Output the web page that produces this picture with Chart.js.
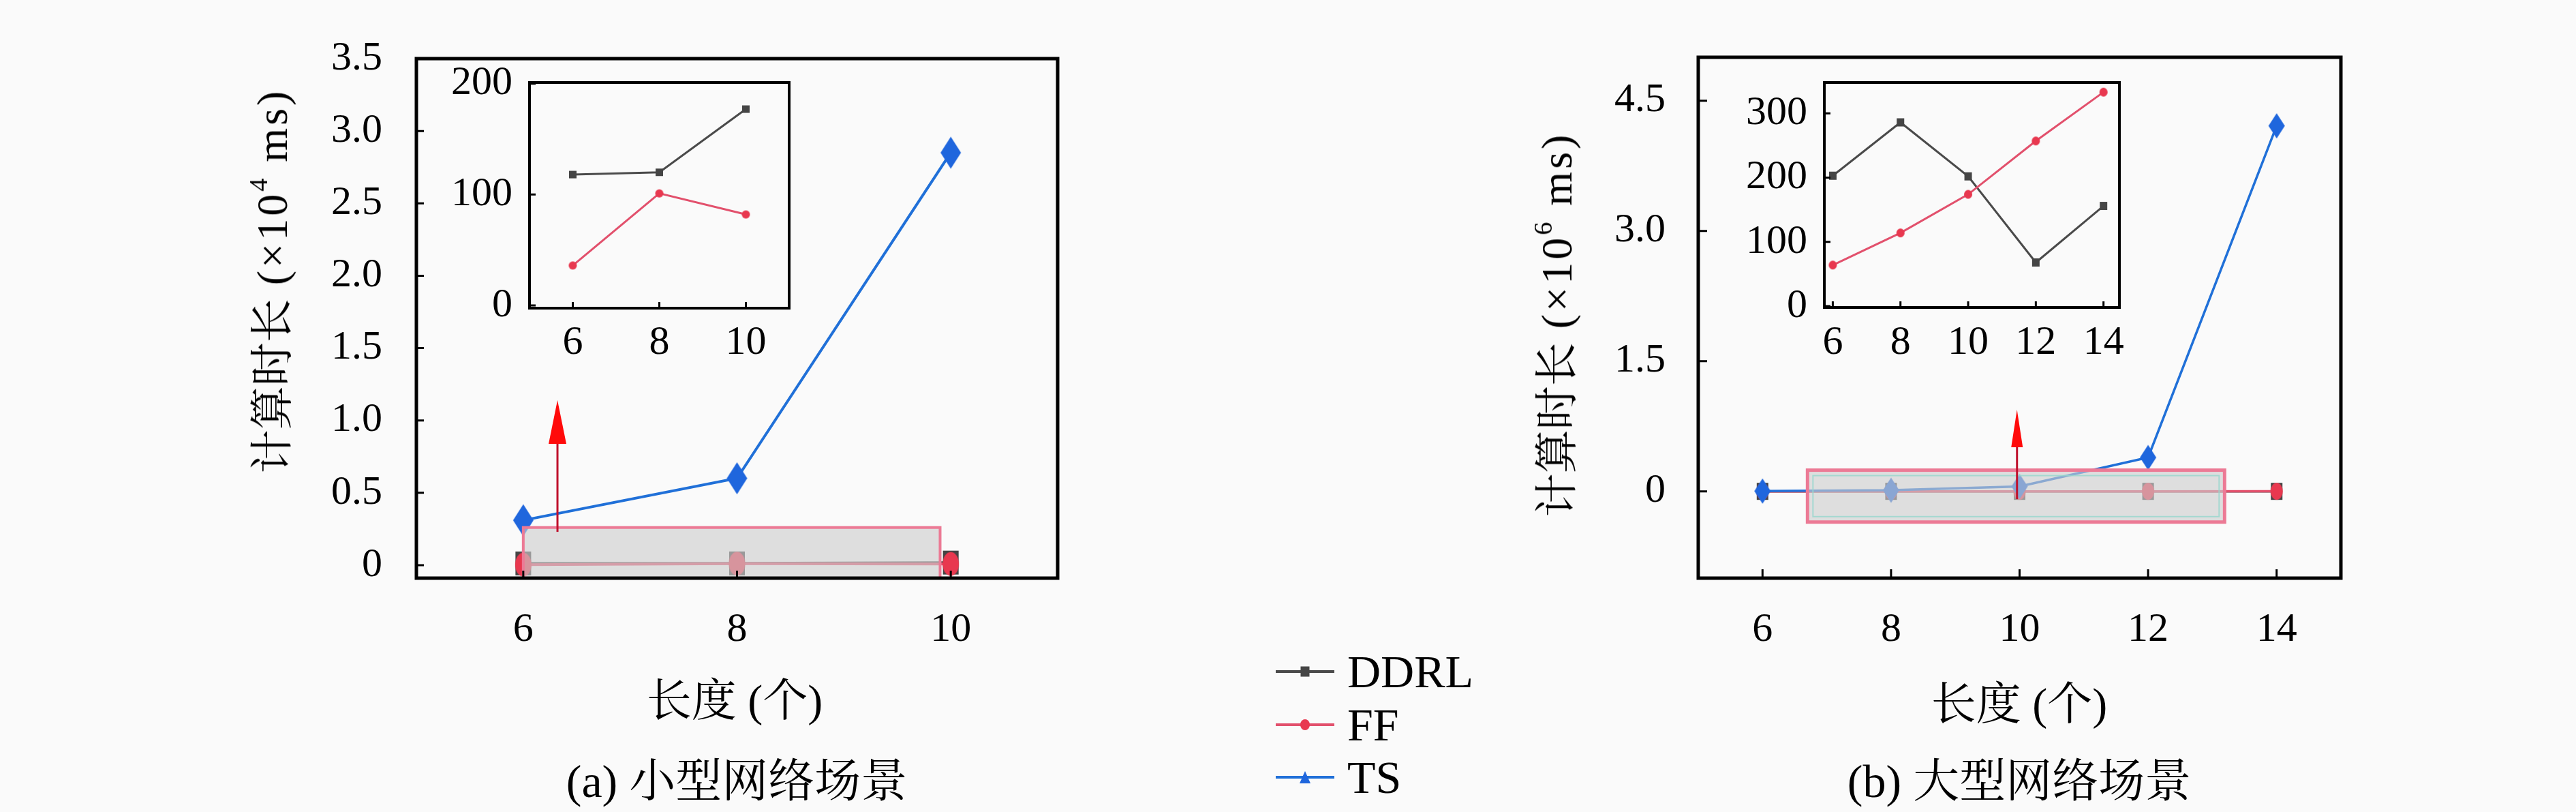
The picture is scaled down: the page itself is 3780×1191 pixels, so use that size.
<!DOCTYPE html>
<html><head><meta charset="utf-8">
<script src="https://cdn.jsdelivr.net/npm/chart.js@4.4.0/dist/chart.umd.min.js"></script>
<style>
html,body{margin:0;padding:0;background:#fafafa;}
body{width:3780px;height:1191px;position:relative;overflow:hidden;font-family:"Liberation Serif","Noto Serif CJK SC","Noto Sans CJK SC",serif;color:#000;}
canvas{position:absolute;}
.txt{position:absolute;white-space:nowrap;line-height:1;transform-origin:center center;}
.txt sup{font-size:0.6em;vertical-align:0.75em;line-height:0;}
.lat{letter-spacing:4px;}
</style></head><body>
<canvas id="mainA" width="1700" height="1191" style="left:0;top:0;width:1700px;height:1191px"></canvas>
<canvas id="mainB" width="1780" height="1191" style="left:2000px;top:0;width:1780px;height:1191px"></canvas>
<canvas id="insetA" width="600" height="500" style="left:600px;top:60px;width:600px;height:500px"></canvas>
<canvas id="insetB" width="680" height="500" style="left:2480px;top:60px;width:680px;height:500px"></canvas>
<canvas id="legend" width="110" height="240" style="left:1860px;top:925px;width:110px;height:240px"></canvas>

<div class="txt" style="left:400px;top:412px;font-size:64px;transform:translate(-50%,-50%) rotate(-90deg)">计算时长<span class="lat"> (×10<sup>4</sup> ms)</span></div>
<div class="txt" style="left:2285px;top:476px;font-size:64px;transform:translate(-50%,-50%) rotate(-90deg)">计算时长<span class="lat"> (×10<sup>6</sup> ms)</span></div>
<div class="txt" style="left:1078px;top:1028px;font-size:66px;transform:translate(-50%,-50%)">长度 (个)</div>
<div class="txt" style="left:2963px;top:1033px;font-size:66px;transform:translate(-50%,-50%)">长度 (个)</div>
<div class="txt" style="left:1081px;top:1146px;font-size:68px;transform:translate(-50%,-50%)">(a) 小型网络场景</div>
<div class="txt" style="left:2963px;top:1146px;font-size:68px;transform:translate(-50%,-50%)">(b) 大型网络场景</div>
<div class="txt" style="left:1977px;top:985px;font-size:68px;transform:translate(0,-50%)">DDRL</div>
<div class="txt" style="left:1977px;top:1063px;font-size:68px;transform:translate(0,-50%)">FF</div>
<div class="txt" style="left:1977px;top:1140px;font-size:68px;transform:translate(0,-50%)">TS</div>

<script>
// ---------------- data ----------------
const seriesNames = ['DDRL', 'FF', 'TS'];
const lengthsSmall = [6, 8, 10];
const lengthsLarge = [6, 8, 10, 12, 14];
// small network scenario (ms)
const ddrlSmallMs = [118, 120, 177];
const ffSmallMs = [36, 101, 82];
// TS small network (x10^4 ms)
const tsSmall = [0.31, 0.60, 2.85];
// large network scenario (ms)
const ddrlLargeMs = [203, 286, 202, 68, 156];
const ffLargeMs = [64, 114, 174, 257, 333];
// TS large network (x10^6 ms)
const tsLarge = [0.003, 0.013, 0.056, 0.39, 4.21];

const xTicksSmall = [6, 8, 10];
const xTicksLarge = [6, 8, 10, 12, 14];
const yTicksMainA = [0, 0.5, 1.0, 1.5, 2.0, 2.5, 3.0, 3.5];
const yLabelsMainA = ['0', '0.5', '1.0', '1.5', '2.0', '2.5', '3.0', '3.5'];
const yTicksMainB = [0, 1.5, 3.0, 4.5];
const yLabelsMainB = ['0', '1.5', '3.0', '4.5'];
const yTicksInsetA = [0, 100, 200];
const yTicksInsetB = [0, 100, 200, 300];

// ---------------- styles ----------------
const BG = '#fafafa';
const COL = { DDRL: '#454545', FF: '#e8384f', TS: '#1f66dd' };
const LINECOL = { DDRL: '#4a4a4a', FF: '#e2506c', TS: '#2070d8' };
const FONT = "'Liberation Serif', serif";

function marker(shape, w, h, fill) {
  const c = document.createElement('canvas');
  c.width = Math.ceil(w) + 2; c.height = Math.ceil(h) + 2;
  const g = c.getContext('2d');
  const cx = c.width / 2, cy = c.height / 2;
  g.fillStyle = fill;
  g.beginPath();
  if (shape === 'diamond') { g.moveTo(cx, cy - h/2); g.lineTo(cx + w/2, cy); g.lineTo(cx, cy + h/2); g.lineTo(cx - w/2, cy); g.closePath(); }
  else if (shape === 'ellipse') { g.ellipse(cx, cy, w/2, h/2, 0, 0, Math.PI * 2); }
  else if (shape === 'rect') { g.rect(cx - w/2, cy - h/2, w, h); }
  else if (shape === 'triangle') { g.moveTo(cx, cy - h/2); g.lineTo(cx + w/2, cy + h/2); g.lineTo(cx - w/2, cy + h/2); g.closePath(); }
  g.fill();
  return c;
}

const pts = (xs, ys, k) => xs.map((x, i) => ({ x: x, y: ys[i] * (k || 1) }));

const overlayPlugin = {
  id: 'overlay',
  beforeDatasetsDraw(chart, args, o) {
    if (o.bg) {
      const a = chart.chartArea, ctx = chart.ctx;
      ctx.save(); ctx.fillStyle = o.bg; ctx.fillRect(a.left, a.top, a.right - a.left, a.bottom - a.top); ctx.restore();
    }
  },
  afterDatasetsDraw(chart, args, o) {
    const ctx = chart.ctx, x = chart.scales.x, y = chart.scales.y;
    if (o.rect) {
      const r = o.rect;
      const x1 = x.getPixelForValue(r.x1), x2 = x.getPixelForValue(r.x2);
      const y1 = y.getPixelForValue(r.y1), y2 = y.getPixelForValue(r.y2);
      ctx.save();
      ctx.fillStyle = 'rgba(205,205,205,0.62)';
      ctx.fillRect(x1, y2, x2 - x1, y1 - y2);
      if (o.innerLine) {
        const d = 8;
        ctx.strokeStyle = 'rgba(150,215,205,0.8)'; ctx.lineWidth = 2;
        ctx.strokeRect(x1 + d, y2 + d, x2 - x1 - 2 * d, y1 - y2 - 2 * d);
      }
      ctx.strokeStyle = '#ec7a95'; ctx.lineWidth = o.rectLine || 3;
      ctx.strokeRect(x1, y2, x2 - x1, y1 - y2);
      ctx.restore();
    }
    if (o.arrow) {
      const r = o.arrow;
      const px = x.getPixelForValue(r.x), p1 = y.getPixelForValue(r.y1), p2 = y.getPixelForValue(r.y2);
      ctx.save();
      ctx.strokeStyle = '#c0102c'; ctx.lineWidth = 3;
      ctx.beginPath(); ctx.moveTo(px, p1); ctx.lineTo(px, p2 + r.head); ctx.stroke();
      ctx.fillStyle = '#ff0a0a';
      ctx.beginPath(); ctx.moveTo(px, p2); ctx.lineTo(px + r.headW/2, p2 + r.head); ctx.lineTo(px - r.headW/2, p2 + r.head); ctx.closePath(); ctx.fill();
      ctx.restore();
    }
  },
  afterDraw(chart, args, o) {
    const ctx = chart.ctx, a = chart.chartArea, x = chart.scales.x, y = chart.scales.y;
    ctx.save();
    ctx.strokeStyle = '#000'; ctx.lineWidth = o.frame || 4;
    ctx.strokeRect(a.left, a.top, a.right - a.left, a.bottom - a.top);
    ctx.lineWidth = 3;
    const L = o.tickLen || 11;
    ctx.beginPath();
    x.ticks.forEach(t => { const p = x.getPixelForValue(t.value); ctx.moveTo(p, a.bottom); ctx.lineTo(p, a.bottom - L); });
    y.ticks.forEach(t => { const p = y.getPixelForValue(t.value); ctx.moveTo(a.left, p); ctx.lineTo(a.left + L, p); });
    ctx.stroke();
    ctx.restore();
  }
};

function makeChart(id, o) {
  const ds = o.series.map(s => ({
    label: s.name,
    data: s.data,
    borderColor: LINECOL[s.name],
    backgroundColor: COL[s.name],
    borderWidth: o.lineW,
    pointStyle: s.marker,
    pointRadius: 5,
    tension: 0,
    order: s.order,
    clip: false
  }));
  return new Chart(document.getElementById(id), {
    type: 'line',
    data: { datasets: ds },
    plugins: [overlayPlugin],
    options: {
      responsive: false, animation: false, devicePixelRatio: 1, events: [],
      layout: { padding: { top: o.padTop, right: o.padRight, left: 0, bottom: 0 } },
      plugins: { legend: { display: false }, tooltip: { enabled: false }, overlay: o.overlay },
      scales: {
        x: {
          type: 'linear', min: o.xMin, max: o.xMax,
          grid: { display: false, drawTicks: false }, border: { display: false },
          afterBuildTicks: sc => { sc.ticks = o.xTicks.map(v => ({ value: v })); },
          afterFit: sc => { sc.height = o.xH; },
          ticks: { padding: o.xPad, font: { family: FONT, size: o.fs }, color: '#000', maxRotation: 0, autoSkip: false,
                   callback: (v, i) => String(o.xTicks[i]) }
        },
        y: {
          type: 'linear', min: o.yMin, max: o.yMax,
          grid: { display: false, drawTicks: false }, border: { display: false },
          afterBuildTicks: sc => { sc.ticks = o.yTicks.map(v => ({ value: v })); },
          afterFit: sc => { sc.width = o.yW; },
          ticks: { padding: o.yPad, font: { family: FONT, size: o.fs }, color: '#000', autoSkip: false,
                   callback: (v, i) => o.yLabels[i] }
        }
      }
    }
  });
}

// main A: small network (x10^4 ms)
makeChart('mainA', {
  series: [
    { name: 'DDRL', data: pts(lengthsSmall, ddrlSmallMs, 1e-4), marker: marker('rect', 23, 35, COL.DDRL), order: 2 },
    { name: 'FF', data: pts(lengthsSmall, ffSmallMs, 1e-4), marker: marker('ellipse', 24, 35, COL.FF), order: 1 },
    { name: 'TS', data: pts(lengthsSmall, tsSmall), marker: marker('diamond', 30, 47, COL.TS), order: 0 }
  ],
  lineW: 4, fs: 60,
  xMin: 5, xMax: 11, xTicks: xTicksSmall, xH: 343, xPad: 40,
  yMin: -0.09, yMax: 3.5, yTicks: yTicksMainA, yLabels: yLabelsMainA, yW: 611, yPad: 50,
  padTop: 46, padRight: 148,
  overlay: { frame: 5, tickLen: 11, rect: { x1: 6, x2: 9.9, y1: -0.09, y2: 0.26 }, rectLine: 4,
             arrow: { x: 6.32, y1: 0.23, y2: 1.14, head: 64, headW: 26 } }
});

// main B: large network (x10^6 ms)
makeChart('mainB', {
  series: [
    { name: 'DDRL', data: pts(lengthsLarge, ddrlLargeMs, 1e-6), marker: marker('rect', 17, 25, COL.DDRL), order: 2 },
    { name: 'FF', data: pts(lengthsLarge, ffLargeMs, 1e-6), marker: marker('ellipse', 18, 25, COL.FF), order: 1 },
    { name: 'TS', data: pts(lengthsLarge, tsLarge), marker: marker('diamond', 24, 37, COL.TS), order: 0 }
  ],
  lineW: 3.5, fs: 60,
  xMin: 5, xMax: 15, xTicks: xTicksLarge, xH: 343, xPad: 40,
  yMin: -1.0, yMax: 5.0, yTicks: yTicksMainB, yLabels: yLabelsMainB, yW: 492, yPad: 48,
  padTop: 46, padRight: 345,
  overlay: { frame: 5, tickLen: 13, rect: { x1: 6.7, x2: 13.19, y1: -0.354, y2: 0.244 }, rectLine: 5, innerLine: true,
             arrow: { x: 9.96, y1: -0.09, y2: 0.94, head: 55, headW: 17 } }
});

// inset A (ms)
makeChart('insetA', {
  series: [
    { name: 'DDRL', data: pts(lengthsSmall, ddrlSmallMs), marker: marker('rect', 11, 11, COL.DDRL), order: 1 },
    { name: 'FF', data: pts(lengthsSmall, ffSmallMs), marker: marker('ellipse', 12, 12, COL.FF), order: 0 }
  ],
  lineW: 3, fs: 60,
  xMin: 5, xMax: 11, xTicks: xTicksSmall, xH: 108, xPad: 15,
  yMin: -2.5, yMax: 201, yTicks: yTicksInsetA, yLabels: yTicksInsetA.map(String), yW: 177, yPad: 25,
  padTop: 52, padRight: 42,
  overlay: { bg: BG, frame: 4, tickLen: 9 }
});

// inset B (ms)
makeChart('insetB', {
  series: [
    { name: 'DDRL', data: pts(lengthsLarge, ddrlLargeMs), marker: marker('rect', 11, 12, COL.DDRL), order: 1 },
    { name: 'FF', data: pts(lengthsLarge, ffLargeMs), marker: marker('ellipse', 12, 13, COL.FF), order: 0 }
  ],
  lineW: 3, fs: 60,
  xMin: 5.75, xMax: 14.47, xTicks: xTicksLarge, xH: 109, xPad: 16,
  yMin: -2, yMax: 348, yTicks: yTicksInsetB, yLabels: yTicksInsetB.map(String), yW: 197, yPad: 25,
  padTop: 49, padRight: 50,
  overlay: { bg: BG, frame: 4, tickLen: 9 }
});

// legend symbols
(function () {
  const g = document.getElementById('legend').getContext('2d');
  const rows = [
    { name: 'DDRL', y: 60, m: marker('rect', 13, 15, COL.DDRL) },
    { name: 'FF', y: 138, m: marker('ellipse', 14, 16, COL.FF) },
    { name: 'TS', y: 215, m: marker('triangle', 16, 18, COL.TS) }
  ];
  rows.forEach(r => {
    g.strokeStyle = LINECOL[r.name]; g.lineWidth = 4;
    g.beginPath(); g.moveTo(12, r.y); g.lineTo(98, r.y); g.stroke();
    g.drawImage(r.m, 55 - r.m.width / 2, r.y - r.m.height / 2);
  });
})();
</script>
</body></html>
